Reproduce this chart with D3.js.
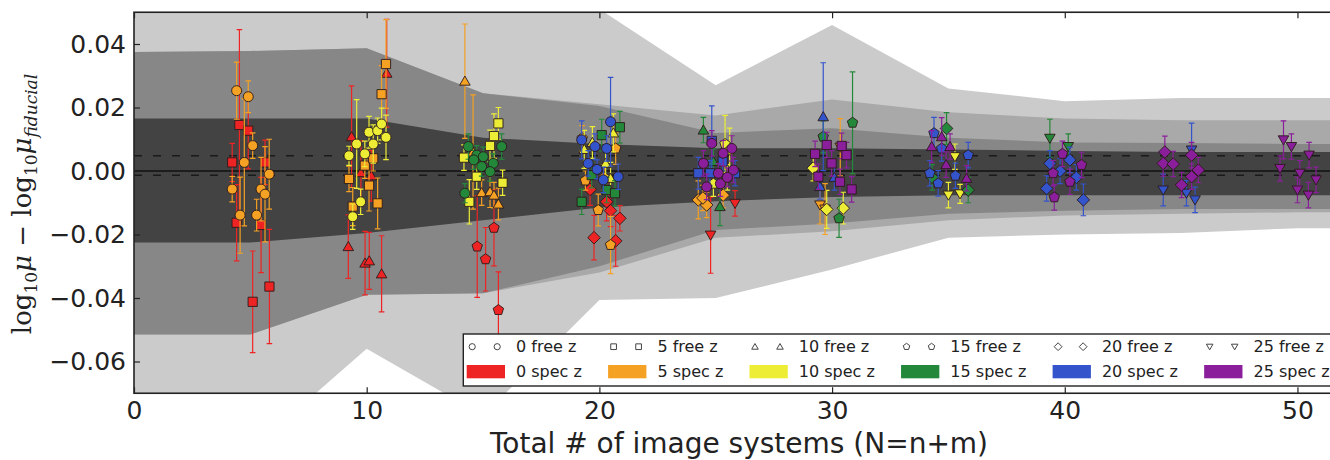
<!DOCTYPE html>
<html>
<head>
<meta charset="utf-8">
<script src="https://cdn.jsdelivr.net/npm/d3@7"></script>
<style>
  body { margin: 0; background: #fff; }
  svg { display: block; }
</style>
</head>
<body>
<svg id="chart" width="1330" height="460"></svg>
<script>
// ---------------- data ----------------
const xTicks = [0, 10, 20, 30, 40, 50];
const yTicks = [0.04, 0.02, 0.00, -0.02, -0.04, -0.06];

const specCounts = [0, 5, 10, 15, 20, 25];
const specColors = ["#ee2424", "#f4a124", "#eded36", "#24883a", "#3454cc", "#8b1f9b"];
const freeCounts = [0, 5, 10, 15, 20, 25];
const freeShapes = ["circle", "square", "triangle", "pentagon", "diamond", "triangleDown"];

// shaded scatter envelopes (knots along N)
const bandX   = [0, 5, 10, 15, 20, 25, 30, 35, 40, 45, 50, 55];
const outerHi = [0.075, 0.075, 0.075, 0.068, 0.051, 0.027, 0.046, 0.026, 0.022, 0.023, 0.023, 0.023];
const outerLo = [-0.09, -0.088, -0.056, -0.077, -0.0406, -0.040, -0.031, -0.021, -0.020, -0.0195, -0.018, -0.018];
const midHi   = [0.0375, 0.0378, 0.0387, 0.0245, 0.021, 0.0175, 0.0225, 0.0185, 0.0165, 0.016, 0.016, 0.016];
const midLo   = [-0.0515, -0.0515, -0.039, -0.0385, -0.032, -0.021, -0.019, -0.0155, -0.014, -0.0135, -0.013, -0.013];
const innerHi = [0.0375, 0.0378, 0.0387, 0.0245, 0.0205, 0.012, 0.0135, 0.0105, 0.009, 0.0088, 0.0085, 0.0085];
const innerLo = [-0.0515, -0.0515, -0.039, -0.0385, -0.030, -0.0186, -0.0165, -0.0135, -0.0125, -0.012, -0.012, -0.012];
const coreHi  = [0.0165, 0.0165, 0.0165, 0.0105, 0.0085, 0.0072, 0.0072, 0.0068, 0.0063, 0.006, 0.006, 0.006];
const coreLo  = [-0.0225, -0.0225, -0.0195, -0.0155, -0.0115, -0.0095, -0.0082, -0.0076, -0.0076, -0.0076, -0.0076, -0.0076];

// reference lines
const meanLine = 0.0;
const spreadLines = [0.0048, -0.0013];

// per-N runs: [spec z count, N (jittered), offset, error]
const n5 = [
  [0, 4.22, 0.0027, 0.006], [0, 4.53, 0.0145, 0.030], [0, 4.91, 0.0127, 0.012], [0, 5.63, 0.0027, 0.007],
  [0, 4.41, -0.0163, 0.012], [0, 5.46, -0.0170, 0.015], [0, 5.10, -0.0412, 0.016], [0, 5.82, -0.0364, 0.018],
  [5, 4.41, 0.0253, 0.009], [5, 4.91, 0.0234, 0.005], [5, 5.10, 0.0080, 0.004], [5, 4.74, 0.0027, 0.020],
  [5, 5.81, -0.0010, 0.011], [5, 4.22, -0.0057, 0.004], [5, 5.46, -0.0057, 0.010], [5, 5.63, -0.0073, 0.015],
  [5, 4.56, -0.0139, 0.012], [5, 5.27, -0.0139, 0.005]
];
const n10 = [
  [0, 9.35, 0.0108, 0.016], [0, 10.86, 0.0308, 0.017], [0, 9.21, -0.0238, 0.010], [0, 9.93, -0.0290, 0.010],
  [0, 10.11, -0.0283, 0.009], [0, 10.64, -0.0324, 0.012], [0, 9.75, -0.0005, 0.010], [0, 10.20, -0.0015, 0.008],
  [5, 9.24, -0.0025, 0.004], [5, 9.92, 0.0017, 0.004], [5, 10.28, 0.0040, 0.004], [5, 10.10, -0.0046, 0.008],
  [5, 9.40, -0.0112, 0.006], [5, 10.47, -0.0102, 0.008], [5, 10.64, 0.0242, 0.009], [5, 10.83, 0.0337, 0.014],
  [10, 9.24, 0.0048, 0.003], [10, 9.57, 0.0085, 0.014], [10, 9.92, 0.0054, 0.004], [10, 10.10, 0.0122, 0.005],
  [10, 10.28, 0.0085, 0.006], [10, 10.47, 0.0127, 0.004], [10, 10.64, 0.0148, 0.005], [10, 10.83, 0.0106, 0.007],
  [10, 9.74, -0.0097, 0.004], [10, 9.40, -0.0144, 0.004]
];
const n15 = [
  [0, 15.47, -0.0179, 0.012], [0, 14.75, -0.0238, 0.016], [0, 15.11, -0.0278, 0.010], [0, 15.66, -0.0438, 0.012],
  [5, 14.22, 0.0283, 0.018], [5, 14.57, 0.0060, 0.018], [5, 14.94, -0.0068, 0.004], [5, 15.30, -0.0065, 0.005],
  [5, 15.47, -0.0076, 0.004], [5, 15.66, -0.0104, 0.005],
  [10, 15.66, 0.0150, 0.005], [10, 15.47, 0.0110, 0.007], [10, 15.30, 0.0079, 0.005], [10, 14.18, 0.0042, 0.004],
  [10, 14.73, -0.0018, 0.004], [10, 15.84, -0.0037, 0.004], [10, 14.41, -0.0097, 0.007],
  [15, 14.37, 0.0077, 0.004], [15, 14.73, 0.0050, 0.003], [15, 15.01, 0.0045, 0.003], [15, 15.44, 0.0024, 0.003],
  [15, 15.80, 0.0077, 0.004], [15, 14.94, 0.0014, 0.003], [15, 15.30, -0.0002, 0.003], [15, 14.22, -0.0070, 0.003],
  [15, 14.60, 0.0035, 0.003]
];
const n20 = [
  [0, 19.60, -0.0058, 0.005], [0, 20.31, -0.0097, 0.006], [0, 20.48, -0.0125, 0.005], [0, 20.88, -0.0149, 0.004],
  [0, 19.77, -0.0210, 0.007], [0, 20.70, -0.0220, 0.008],
  [5, 19.26, 0.0103, 0.004], [5, 20.70, 0.0071, 0.005], [5, 19.95, -0.0123, 0.005], [5, 20.48, -0.0233, 0.009],
  [5, 20.20, -0.0020, 0.004], [5, 19.40, -0.0030, 0.003],
  [10, 19.35, 0.0068, 0.006], [10, 20.27, 0.0024, 0.004], [10, 20.48, -0.0023, 0.005], [10, 19.70, 0.0090, 0.005],
  [10, 20.60, 0.0120, 0.006],
  [15, 20.88, 0.0138, 0.005], [15, 20.10, 0.0113, 0.005], [15, 19.67, -0.0013, 0.004], [15, 20.31, -0.0060, 0.004],
  [15, 19.24, -0.0097, 0.004], [15, 20.67, -0.0070, 0.004],
  [20, 20.48, 0.0155, 0.014], [20, 19.24, 0.0098, 0.006], [20, 19.81, 0.0077, 0.004], [20, 20.31, 0.0071, 0.004],
  [20, 19.52, 0.0024, 0.004], [20, 20.81, -0.0018, 0.004], [20, 20.17, -0.0028, 0.004], [20, 19.90, 0.0005, 0.003]
];
const n25 = [
  [0, 25.83, -0.0102, 0.004], [0, 24.78, -0.0202, 0.012],
  [5, 24.25, -0.0091, 0.006], [5, 24.61, -0.0107, 0.004], [5, 25.32, -0.0076, 0.004], [5, 24.45, -0.0085, 0.004],
  [10, 25.40, 0.0085, 0.009], [10, 25.60, 0.0065, 0.007], [10, 24.90, -0.0040, 0.004], [10, 25.50, -0.0020, 0.004],
  [15, 24.47, 0.0129, 0.004], [15, 25.18, -0.0112, 0.006], [15, 24.90, 0.0030, 0.004],
  [20, 24.25, -0.0007, 0.005], [20, 24.75, -0.0007, 0.004], [20, 25.83, -0.0007, 0.004], [20, 24.83, 0.0095, 0.011],
  [20, 25.30, 0.0030, 0.003],
  [25, 24.83, 0.0087, 0.004], [25, 25.32, 0.0056, 0.004], [25, 25.69, 0.0071, 0.004], [25, 24.47, 0.0024, 0.004],
  [25, 25.11, -0.0007, 0.003], [25, 25.76, 0.0003, 0.004], [25, 24.61, -0.0050, 0.004], [25, 25.20, -0.0040, 0.004],
  [25, 25.50, -0.0020, 0.003]
];
const n30 = [
  [5, 29.48, -0.0107, 0.006], [5, 29.70, -0.0120, 0.008], [5, 30.35, 0.0075, 0.009],
  [10, 29.77, -0.0121, 0.006], [10, 30.48, -0.0117, 0.005], [10, 29.19, 0.0009, 0.004],
  [15, 29.62, 0.0108, 0.005], [15, 30.30, -0.0149, 0.006], [15, 30.88, 0.0152, 0.016],
  [20, 29.62, 0.0171, 0.017], [20, 29.48, -0.0049, 0.004], [20, 30.10, -0.0020, 0.004],
  [25, 29.77, 0.0082, 0.004], [25, 30.41, 0.0079, 0.004], [25, 29.27, 0.0054, 0.004], [25, 29.98, 0.0024, 0.004],
  [25, 30.62, 0.0050, 0.004], [25, 29.41, -0.0018, 0.004], [25, 30.34, -0.0034, 0.004], [25, 30.84, -0.0058, 0.004]
];
const n35 = [
  [10, 35.28, 0.0045, 0.004], [10, 35.00, -0.0076, 0.004], [10, 35.50, -0.0072, 0.003],
  [15, 34.92, 0.0134, 0.005], [15, 35.85, -0.0060, 0.004], [15, 34.30, -0.0020, 0.004],
  [20, 34.38, 0.0119, 0.005], [20, 34.71, 0.0071, 0.004], [20, 35.85, 0.0050, 0.004], [20, 34.20, -0.0007, 0.004],
  [20, 34.56, -0.0039, 0.004], [20, 35.30, -0.0015, 0.004],
  [25, 34.28, 0.0077, 0.005], [25, 35.07, 0.0077, 0.004], [25, 34.71, 0.0108, 0.006], [25, 35.78, -0.0023, 0.004],
  [25, 34.90, 0.0020, 0.004]
];
const n40 = [
  [15, 39.36, 0.0103, 0.006], [15, 40.15, 0.0077, 0.004],
  [20, 39.36, 0.0024, 0.004], [20, 40.22, 0.0035, 0.004], [20, 39.22, -0.0055, 0.004], [20, 40.80, -0.0091, 0.005],
  [20, 39.80, 0.0000, 0.004], [20, 40.50, -0.0020, 0.004],
  [25, 39.90, 0.0054, 0.004], [25, 40.72, 0.0019, 0.004], [25, 39.50, -0.0007, 0.004], [25, 40.22, -0.0034, 0.004],
  [25, 39.55, -0.0083, 0.004]
];
const n45 = [
  [20, 44.23, -0.0060, 0.005], [20, 45.23, -0.0070, 0.004], [20, 45.60, -0.0091, 0.004], [20, 45.45, 0.0066, 0.0085],
  [25, 44.23, 0.0024, 0.004], [25, 44.66, 0.0022, 0.004], [25, 45.45, 0.0050, 0.004], [25, 45.74, 0.0003, 0.004],
  [25, 45.45, -0.0018, 0.004], [25, 45.02, -0.0044, 0.004], [25, 44.30, 0.0060, 0.005]
];
const n50 = [
  [25, 49.40, 0.0098, 0.006], [25, 49.74, 0.0077, 0.004], [25, 49.25, 0.0008, 0.004], [25, 50.10, -0.0007, 0.004],
  [25, 50.50, 0.0050, 0.004], [25, 50.00, -0.0060, 0.004], [25, 50.47, -0.0076, 0.004], [25, 50.80, -0.0028, 0.004]
];
const totalN = [5, 10, 15, 20, 25, 30, 35, 40, 45, 50];
const runs = [n5, n10, n15, n20, n25, n30, n35, n40, n45, n50];

// ---------------- layout ----------------
const svg = d3.select("#chart");
const plot = { left: 134, right: 1344, top: 12.25, bottom: 393.25 };
const x = d3.scaleLinear().domain([0, 52]).range([plot.left, plot.right]);
const y = d3.scaleLinear().domain([-0.07, 0.05]).range([plot.bottom, plot.top]);

svg.append("defs").append("clipPath").attr("id", "plotclip")
  .append("rect").attr("x", plot.left).attr("y", plot.top)
  .attr("width", plot.right - plot.left).attr("height", plot.bottom - plot.top);

const inner = svg.append("g").attr("clip-path", "url(#plotclip)");

// ---------------- shaded envelopes ----------------
const bands = [
  { hi: outerHi, lo: outerLo, fill: "#cbcbcb" },
  { hi: midHi, lo: midLo, fill: "#a9a9a9" },
  { hi: innerHi, lo: innerLo, fill: "#878787" },
  { hi: coreHi, lo: coreLo, fill: "#434343" }
];
bands.forEach(b => {
  const area = d3.area()
    .x(i => x(bandX[i]))
    .y0(i => y(b.lo[i]))
    .y1(i => y(b.hi[i]));
  inner.append("path").attr("d", area(d3.range(bandX.length))).attr("fill", b.fill);
});

// ---------------- reference lines ----------------
inner.append("line").attr("x1", plot.left).attr("x2", plot.right)
  .attr("y1", y(meanLine)).attr("y2", y(meanLine))
  .attr("stroke", "#111").attr("stroke-width", 1.6);
spreadLines.forEach(v => {
  inner.append("line").attr("x1", plot.left).attr("x2", plot.right)
    .attr("y1", y(v)).attr("y2", y(v))
    .attr("stroke", "#1a1a1a").attr("stroke-width", 1.5).attr("stroke-dasharray", "8,11");
});

// ---------------- marker shapes ----------------
function polygon(ctx, pts) {
  ctx.moveTo(pts[0][0], pts[0][1]);
  for (let k = 1; k < pts.length; k++) ctx.lineTo(pts[k][0], pts[k][1]);
  ctx.closePath();
}
function regular(n, r, rot) {
  return d3.range(n).map(k => {
    const a = rot + k * 2 * Math.PI / n;
    return [r * Math.cos(a), r * Math.sin(a)];
  });
}
function shapePath(shape, s) {
  const p = d3.path();
  switch (shape) {
    case "circle": p.arc(0, 0, 5.0 * s, 0, 2 * Math.PI); p.closePath(); break;
    case "square": polygon(p, [[-4.6 * s, -4.6 * s], [4.6 * s, -4.6 * s], [4.6 * s, 4.6 * s], [-4.6 * s, 4.6 * s]]); break;
    case "triangle": polygon(p, regular(3, 6.1 * s, -Math.PI / 2).map(([a, b]) => [a, b + 1.0 * s])); break;
    case "triangleDown": polygon(p, regular(3, 6.1 * s, Math.PI / 2).map(([a, b]) => [a, b - 1.0 * s])); break;
    case "pentagon": polygon(p, regular(5, 5.5 * s, -Math.PI / 2)); break;
    case "diamond": polygon(p, [[0, -6.3 * s], [6.3 * s, 0], [0, 6.3 * s], [-6.3 * s, 0]]); break;
  }
  return p.toString();
}

// ---------------- error bars + markers ----------------
const capHalf = 2.8;
runs.forEach((run, ri) => {
  const N = totalN[ri];
  specCounts.forEach((sc, si) => {
    const pts = run.filter(r => r[0] === sc);
    if (!pts.length) return;
    const color = specColors[si];
    const shape = freeShapes[freeCounts.indexOf(N - sc)];
    const g = inner.append("g");
    pts.forEach(([, nx, v, e]) => {
      const px = x(nx);
      g.append("line").attr("x1", px).attr("x2", px)
        .attr("y1", y(v + e)).attr("y2", y(v - e))
        .attr("stroke", color).attr("stroke-width", 1.2);
      [v + e, v - e].forEach(c => {
        g.append("line").attr("x1", px - capHalf).attr("x2", px + capHalf)
          .attr("y1", y(c)).attr("y2", y(c))
          .attr("stroke", color).attr("stroke-width", 1.2);
      });
    });
    g.selectAll("path.mk").data(pts).join("path").attr("class", "mk")
      .attr("d", shapePath(shape, 1))
      .attr("transform", d => `translate(${x(d[1])},${y(d[2])})`)
      .attr("fill", color)
      .attr("stroke", "#2a1a1a").attr("stroke-width", 0.9);
  });
});

// ---------------- axes ----------------
const axisFont = "DejaVu Sans, sans-serif";
const fmt = d3.format(".2f");

const xAxis = svg.append("g").attr("transform", `translate(0,${plot.bottom})`)
  .call(d3.axisBottom(x).tickValues(xTicks).tickSizeInner(-6).tickSizeOuter(0).tickPadding(8).tickFormat(d3.format("d")));
const xTop = svg.append("g").attr("transform", `translate(0,${plot.top})`)
  .call(d3.axisTop(x).tickValues(xTicks).tickSizeInner(-6).tickSizeOuter(0).tickFormat(""));
const yAxis = svg.append("g").attr("transform", `translate(${plot.left},0)`)
  .call(d3.axisLeft(y).tickValues(yTicks).tickSizeInner(-6).tickSizeOuter(0).tickPadding(8).tickFormat(fmt));

[xAxis, xTop, yAxis].forEach(a => {
  a.select(".domain").remove();
  a.selectAll(".tick line").attr("stroke", "#222").attr("stroke-width", 1.2);
  a.selectAll(".tick text").attr("font-family", axisFont).attr("font-size", 25).attr("fill", "#222");
});

// frame
svg.append("rect").attr("x", plot.left).attr("y", plot.top)
  .attr("width", plot.right - plot.left).attr("height", plot.bottom - plot.top)
  .attr("fill", "none").attr("stroke", "#222").attr("stroke-width", 1.6);

// axis titles
svg.append("text").attr("x", (plot.left + plot.right) / 2).attr("y", 453)
  .attr("text-anchor", "middle").attr("font-family", axisFont).attr("font-size", 28).attr("fill", "#222")
  .text("Total # of image systems (N=n+m)");

const yl = svg.append("text").attr("transform", "translate(31,204) rotate(-90)")
  .attr("text-anchor", "middle").attr("font-family", "DejaVu Serif, Liberation Serif, serif")
  .attr("font-size", 26).attr("fill", "#222");
yl.append("tspan").text("log");
yl.append("tspan").attr("font-size", 17).attr("dy", 6).text("10");
yl.append("tspan").attr("dy", -6).attr("font-style", "italic").text("μ");
yl.append("tspan").text(" − log");
yl.append("tspan").attr("font-size", 17).attr("dy", 6).text("10");
yl.append("tspan").attr("dy", -6).attr("font-style", "italic").text("μ");
yl.append("tspan").attr("font-size", 17).attr("dy", 6).attr("font-style", "italic").text("fiducial");

// ---------------- legend ----------------
const leg = svg.append("g");
const legFont = 16;
const legTop = 334, legBottom = 386;
const rowFree = 346.7, rowSpec = 371.7;
const handleW = 38.3, handlePad = 11, colGap = 26.2;
const legBox = leg.append("rect").attr("x", 463.3).attr("y", legTop).attr("height", legBottom - legTop)
  .attr("fill", "#fff").attr("stroke", "#222").attr("stroke-width", 1.4);

let cx = 466.7;
specCounts.forEach((sc, i) => {
  const fc = freeCounts[i];
  [5.5, 30.5].forEach(off => {
    leg.append("path").attr("d", shapePath(freeShapes[i], 0.62))
      .attr("transform", `translate(${cx + off},${rowFree})`)
      .attr("fill", "none").attr("stroke", "#444").attr("stroke-width", 1);
  });
  leg.append("rect").attr("x", cx).attr("y", rowSpec - 6.7).attr("width", handleW).attr("height", 13.3)
    .attr("fill", specColors[i]);
  const t1 = leg.append("text").attr("x", cx + handleW + handlePad).attr("y", rowFree).attr("dy", "0.36em")
    .attr("font-family", axisFont).attr("font-size", legFont).attr("fill", "#222").text(`${fc} free z`);
  const t2 = leg.append("text").attr("x", cx + handleW + handlePad).attr("y", rowSpec).attr("dy", "0.36em")
    .attr("font-family", axisFont).attr("font-size", legFont).attr("fill", "#222").text(`${sc} spec z`);
  const w = Math.max(t1.node().getComputedTextLength(), t2.node().getComputedTextLength());
  cx += handleW + handlePad + w + colGap;
});
legBox.attr("width", cx - colGap + 8 - 463.3);
</script>
</body>
</html>
